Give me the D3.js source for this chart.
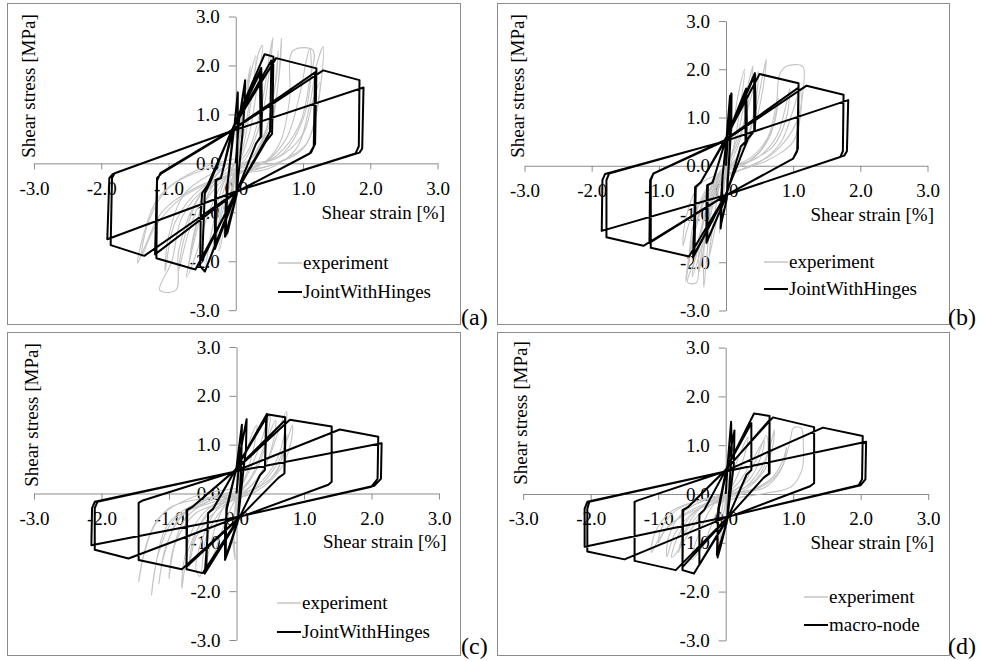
<!DOCTYPE html>
<html><head><meta charset="utf-8">
<script src="https://cdn.jsdelivr.net/npm/d3@7"></script>
<style>body{margin:0;background:#fff}svg{display:block}
svg text{font-family:"Liberation Serif","Times New Roman",Tinos,"Nimbus Roman","DejaVu Serif",serif !important}</style>
</head><body><svg id="c" width="982" height="661"></svg>
<script>
const xTicks=[-3,-2,-1,0,1,2,3];
const yTicks=[-3,-2,-1,0,1,2,3];
const panelLabels=["(a)","(b)","(c)","(d)"];
const modelNames=["JointWithHinges","JointWithHinges","JointWithHinges","macro-node"];
const expName="experiment";
const xTitle="Shear strain [%]";
const yTitle="Shear stress [MPa]";

const aModel=[[0,0],[0.05,0.9],[0.14,1.70],[0.13,1.2],[0.10,0.6],[0.01,-0.66],[-0.12,-1.4],[-0.16,-1.5],[-0.15,-0.9],[-0.12,-0.4],[-0.02,0.76],[0.03,1.45],[0.03,0.8],[0.01,-0.66],[-0.15,-1.45],[-0.12,-0.4],
[-0.03,0.74],[0.38,1.95],[0.39,1.1],[0.38,0.55],[0.3,0.4],[0.0,-0.63],[-0.31,-1.75],[-0.31,-0.9],[-0.3,-0.34],[-0.22,-0.3],
[-0.03,0.74],[0.36,1.85],[0.37,0.55],[0.3,0.4],[0.0,-0.63],[-0.3,-1.7],[-0.29,-0.34],[-0.22,-0.3],
[-0.05,0.7],[0.43,2.23],[0.56,2.18],[0.55,1.3],[0.54,0.6],[0.45,0.45],[0.0,-0.6],[-0.46,-2.21],[-0.53,-2.1],[-0.52,-1.0],[-0.5,-0.61],[-0.42,-0.45],
[-0.05,0.7],[0.53,2.1],[0.51,0.65],[0.44,0.47],[0.0,-0.6],[-0.5,-1.98],[-0.46,-0.61],[-0.4,-0.45],
[-0.06,0.68],[0.6,2.15],[1.2,1.94],[1.18,0.4],[1.12,0.22],[0.02,-0.58],[-0.6,-2.17],[-1.18,-1.94],[-1.17,-0.35],[-1.12,-0.2],
[-0.06,0.68],[1.18,1.86],[1.16,0.35],[1.1,0.2],[0.02,-0.58],[-1.2,-1.86],[-1.17,-0.3],[-1.1,-0.2],
[-0.08,0.65],[1.3,1.9],[1.84,1.70],[1.83,0.35],[1.78,0.2],[0.03,-0.56],[-1.36,-1.89],[-1.86,-1.67],[-1.84,-0.3],[-1.8,-0.2],
[-0.08,0.65],[1.9,1.55],[1.88,0.3],[1.84,0.22],[0.03,-0.56],[-1.91,-1.55],[-1.88,-0.3],[-1.83,-0.22],[-0.08,0.65]];

const bModel=[[0,0],[0.04,0.9],[0.08,1.5],[0.08,0.9],[0.06,0.4],[0.01,-0.7],[-0.06,-1.1],[-0.08,-1.3],[-0.07,-0.6],[-0.05,-0.2],[0.01,0.6],[0.06,1.45],[0.06,0.5],[0.01,-0.7],[-0.08,-1.25],[-0.05,-0.2],
[0.01,0.6],[0.3,1.6],[0.31,0.95],[0.3,0.5],[0.22,0.4],[-0.01,-0.68],[-0.29,-1.6],[-0.29,-0.8],[-0.28,-0.4],[-0.2,-0.35],
[0.01,0.6],[0.29,1.55],[0.29,0.5],[0.22,0.4],[-0.01,-0.68],[-0.28,-1.55],[-0.27,-0.4],[-0.2,-0.35],
[0.0,0.55],[0.43,1.92],[0.44,1.2],[0.43,0.74],[0.33,0.57],[-0.02,-0.65],[-0.49,-1.9],[-0.47,-1.0],[-0.46,-0.44],[-0.38,-0.35],
[0.0,0.55],[0.42,1.85],[0.42,0.72],[0.33,0.57],[-0.02,-0.65],[-0.47,-1.83],[-0.45,-0.44],[-0.38,-0.35],
[-0.02,0.53],[0.5,1.9],[1.08,1.71],[1.07,0.35],[1.0,0.15],[-0.01,-0.62],[-0.55,-1.88],[-1.12,-1.7],[-1.12,-0.3],[-1.08,-0.16],
[-0.02,0.53],[1.08,1.62],[1.06,0.3],[1.0,0.15],[-0.01,-0.62],[-1.14,-1.6],[-1.13,-0.3],[-1.08,-0.16],
[-0.04,0.5],[1.2,1.66],[1.75,1.47],[1.74,0.3],[1.7,0.18],[0.01,-0.6],[-1.23,-1.66],[-1.78,-1.48],[-1.78,-0.3],[-1.74,-0.16],
[-0.04,0.5],[1.82,1.36],[1.8,0.3],[1.76,0.21],[0.01,-0.6],[-1.85,-1.35],[-1.84,-0.3],[-1.8,-0.17],[-0.04,0.5]];

const cModel=[[0,0],[0.05,0.8],[0.15,1.52],[0.14,0.9],[0.1,0.45],[0.02,-0.56],[-0.1,-1.1],[-0.17,-1.36],[-0.17,-0.7],[-0.14,-0.3],[0.0,0.53],[0.08,1.41],[0.07,0.5],[0.02,-0.56],[-0.16,-1.3],[-0.15,-0.3],
[0.0,0.52],[0.45,1.63],[0.43,0.9],[0.42,0.48],[0.35,0.38],[0.03,-0.53],[-0.47,-1.64],[-0.43,-0.9],[-0.42,-0.4],[-0.35,-0.32],
[0.0,0.52],[0.44,1.58],[0.42,0.48],[0.35,0.38],[0.03,-0.53],[-0.45,-1.58],[-0.42,-0.4],[-0.35,-0.32],
[-0.02,0.48],[0.47,1.62],[0.72,1.56],[0.72,0.9],[0.71,0.41],[0.62,0.32],[0.03,-0.51],[-0.5,-1.63],[-0.74,-1.55],[-0.74,-0.9],[-0.74,-0.34],[-0.66,-0.28],
[-0.02,0.48],[0.72,1.5],[0.71,0.41],[0.62,0.32],[0.03,-0.51],[-0.74,-1.5],[-0.73,-0.34],[-0.66,-0.28],
[-0.03,0.46],[0.79,1.51],[1.41,1.37],[1.41,0.8],[1.41,0.24],[1.36,0.18],[0.04,-0.49],[-0.81,-1.55],[-1.45,-1.36],[-1.45,-0.8],[-1.45,-0.19],[-1.4,-0.15],
[-0.05,0.44],[1.53,1.31],[2.1,1.16],[2.09,0.3],[2.0,0.14],[0.05,-0.47],[-1.6,-1.33],[-2.1,-1.15],[-2.1,-0.3],[-2.06,-0.17],
[-0.05,0.44],[2.15,1.03],[2.14,0.3],[2.04,0.16],[0.05,-0.47],[-2.15,-1.06],[-2.14,-0.3],[-2.1,-0.17],[-0.05,0.44]];

const dModel=[[0,0],[0.04,0.8],[0.08,1.48],[0.09,0.9],[0.07,0.45],[0.02,-0.55],[-0.08,-1.1],[-0.12,-1.3],[-0.12,-0.7],[-0.1,-0.3],[0.02,0.54],[0.13,1.3],[0.12,0.6],[0.02,-0.55],[-0.13,-1.25],[-0.11,-0.3],
[0.01,0.52],[0.38,1.45],[0.38,0.9],[0.38,0.49],[0.31,0.4],[0.02,-0.53],[-0.39,-1.45],[-0.39,-0.9],[-0.39,-0.42],[-0.32,-0.33],
[0.0,0.49],[0.42,1.65],[0.65,1.6],[0.65,0.9],[0.65,0.42],[0.56,0.33],[0.02,-0.5],[-0.47,-1.63],[-0.64,-1.56],[-0.64,-0.9],[-0.64,-0.33],[-0.56,-0.27],
[0.0,0.49],[0.65,1.52],[0.64,0.42],[0.56,0.33],[0.02,-0.5],[-0.64,-1.5],[-0.63,-0.33],[-0.56,-0.27],
[-0.02,0.47],[0.7,1.57],[1.31,1.37],[1.31,0.8],[1.31,0.22],[1.25,0.16],[0.03,-0.48],[-0.74,-1.56],[-1.35,-1.37],[-1.35,-0.8],[-1.35,-0.16],[-1.3,-0.13],
[-0.04,0.45],[1.44,1.36],[2.03,1.19],[2.02,0.3],[1.97,0.18],[0.04,-0.46],[-1.5,-1.34],[-2.05,-1.18],[-2.05,-0.3],[-2.02,-0.16],
[-0.04,0.45],[2.08,1.07],[2.07,0.3],[2.0,0.18],[0.04,-0.46],[-2.09,-1.08],[-2.09,-0.3],[-2.05,-0.16],[-0.04,0.45]];

const aExp=[
[[0,0],[0.05,0.7],[0.1,1.3],[0.14,1.6],[0.1,1.0],[0.03,0.2],[-0.03,-0.5],[-0.08,-1.1],[-0.12,-1.5],[-0.08,-0.9],[-0.02,-0.2],[0,0]],
[[0,0.1],[0.08,0.9],[0.18,1.7],[0.22,2.0],[0.16,1.3],[0.06,0.3],[-0.05,-0.4],[-0.15,-1.2],[-0.25,-1.8],[-0.17,-1.0],[-0.05,-0.1],[0,0.1]],
[[0,0.05],[0.1,0.8],[0.22,1.8],[0.3,2.2],[0.25,1.5],[0.12,0.4],[-0.05,-0.3],[-0.2,-1.0],[-0.35,-1.9],[-0.28,-1.2],[-0.1,-0.2],[0,0.05]],
[[0,0],[0.12,0.6],[0.25,1.6],[0.35,2.3],[0.4,2.41],[0.33,1.7],[0.2,0.6],[0.02,-0.1],[-0.15,-0.6],[-0.3,-1.5],[-0.45,-2.2],[-0.36,-1.4],[-0.18,-0.4],[0,0]],
[[0,-0.05],[0.2,0.3],[0.4,1.3],[0.5,2.2],[0.55,2.57],[0.5,1.9],[0.38,0.9],[0.15,0.1],[-0.15,-0.3],[-0.4,-1.0],[-0.6,-1.9],[-0.73,-2.33],[-0.62,-1.6],[-0.4,-0.6],[-0.1,-0.05]],
[[0,-0.1],[0.3,0.2],[0.5,0.9],[0.6,1.8],[0.63,2.3],[0.6,1.7],[0.45,0.7],[0.2,0.05],[-0.2,-0.35],[-0.5,-0.9],[-0.65,-1.7],[-0.7,-2.1],[-0.6,-1.3],[-0.35,-0.4],[0,-0.1]],
[[0,-0.1],[0.25,0.05],[0.5,0.6],[0.62,1.5],[0.68,2.55],[0.66,2.0],[0.55,1.0],[0.3,0.2],[-0.1,-0.2],[-0.45,-0.6],[-0.7,-1.4],[-0.85,-2.2],[-0.78,-1.6],[-0.55,-0.7],[-0.15,-0.05]],
[[0,-0.15],[0.35,-0.05],[0.65,0.4],[0.8,1.3],[0.85,2.3],[1.15,2.31],[1.1,1.7],[0.95,0.8],[0.6,0.15],[0.1,-0.15],[-0.4,-0.45],[-0.8,-1.1],[-0.95,-2.0],[-1.13,-2.59],[-0.89,-2.59],[-0.85,-1.8],[-0.6,-0.8],[-0.2,-0.1]],
[[0,-0.1],[0.4,0.0],[0.75,0.5],[0.95,1.4],[1.05,2.1],[1.1,2.35],[1.12,1.8],[1.0,0.9],[0.7,0.2],[0.2,-0.1],[-0.5,-0.5],[-0.9,-1.2],[-1.05,-2.2],[-1.0,-1.5],[-0.75,-0.6],[-0.2,-0.1]],
[[0,-0.2],[0.5,-0.1],[0.9,0.3],[1.1,1.2],[1.2,2.0],[1.3,2.38],[1.28,1.8],[1.2,1.1],[1.05,0.4],[0.6,0.0],[0.0,-0.2],[-0.6,-0.5],[-1.1,-1.0],[-1.35,-1.7],[-1.46,-2.04],[-1.38,-1.5],[-1.15,-0.7],[-0.6,-0.15],[0,0.1]],
[[0.05,0],[0.6,0.1],[1.0,0.6],[1.15,1.3],[1.25,1.65],[1.2,1.0],[1.0,0.3],[0.5,-0.05],[-0.2,-0.3],[-0.8,-0.7],[-1.2,-1.3],[-1.4,-1.9],[-1.3,-1.2],[-1.0,-0.5],[-0.4,-0.1],[0.05,0]]];

const bExp=[
[[0,0],[0.04,0.7],[0.08,1.3],[0.1,1.5],[0.07,0.9],[0.02,0.2],[-0.03,-0.5],[-0.07,-1.1],[-0.1,-1.4],[-0.06,-0.8],[-0.01,-0.1],[0,0]],
[[0,0.05],[0.1,0.8],[0.2,1.6],[0.28,2.0],[0.22,1.3],[0.1,0.3],[-0.05,-0.4],[-0.15,-1.2],[-0.25,-1.9],[-0.18,-1.1],[-0.05,-0.1],[0,0.05]],
[[0,0],[0.15,0.5],[0.3,1.5],[0.4,2.07],[0.34,1.4],[0.2,0.5],[0.02,-0.1],[-0.15,-0.6],[-0.3,-1.5],[-0.4,-2.2],[-0.33,-1.5],[-0.15,-0.4],[0,0]],
[[0,0],[0.15,0.4],[0.35,1.3],[0.48,1.95],[0.45,1.4],[0.3,0.5],[0.05,-0.05],[-0.2,-0.7],[-0.35,-1.6],[-0.5,-2.3],[-0.42,-1.6],[-0.2,-0.5],[0,0]],
[[0,-0.05],[0.25,0.3],[0.45,1.2],[0.55,1.9],[0.6,2.21],[0.55,1.6],[0.4,0.7],[0.15,0.1],[-0.1,-0.3],[-0.3,-1.0],[-0.45,-1.9],[-0.57,-2.42],[-0.44,-2.42],[-0.4,-1.7],[-0.25,-0.6],[-0.05,-0.05]],
[[0,-0.1],[0.3,0.05],[0.6,0.5],[0.75,1.3],[0.8,1.9],[0.9,2.06],[1.14,2.06],[1.15,1.6],[1.05,0.9],[0.7,0.25],[0.2,-0.1],[-0.15,-0.4],[-0.3,-1.2],[-0.33,-2.52],[-0.28,-1.8],[-0.18,-0.6],[0,-0.1]],
[[0,-0.15],[0.4,0.0],[0.8,0.45],[1.0,1.15],[1.1,1.6],[1.12,1.2],[1.0,0.5],[0.6,0.1],[0.0,-0.2],[-0.3,-0.6],[-0.55,-1.2],[-0.64,-1.66],[-0.6,-1.1],[-0.4,-0.4],[-0.05,-0.15]],
[[0.05,0],[0.45,0.15],[0.75,0.6],[0.9,1.3],[0.95,1.6],[0.9,1.0],[0.7,0.4],[0.3,0.05],[-0.1,-0.2],[-0.35,-0.8],[-0.5,-1.6],[-0.55,-2.0],[-0.5,-1.3],[-0.3,-0.5],[0.05,0]],
[[0,0],[0.35,0.1],[0.65,0.6],[0.78,1.4],[0.7,0.8],[0.4,0.2],[0,-0.1],[-0.25,-0.5],[-0.45,-1.3],[-0.6,-2.4],[-0.5,-1.5],[-0.25,-0.4],[0,0]]];

const cExp=[
[[0,0],[0.03,0.6],[0.08,1.1],[0.1,1.3],[0.07,0.8],[0.02,0.1],[-0.03,-0.5],[-0.05,-1.0],[-0.02,-1.36],[-0.04,-0.7],[-0.01,-0.1],[0,0]],
[[0,0.05],[0.1,0.6],[0.2,1.1],[0.3,1.4],[0.25,0.9],[0.12,0.3],[-0.05,-0.2],[-0.2,-0.7],[-0.35,-1.3],[-0.45,-1.6],[-0.38,-1.0],[-0.2,-0.3],[0,0.05]],
[[0,0],[0.15,0.35],[0.35,1.0],[0.45,1.45],[0.5,1.6],[0.45,1.1],[0.3,0.5],[0.05,0.0],[-0.2,-0.3],[-0.45,-0.9],[-0.54,-1.7],[-0.6,-1.55],[-0.5,-0.9],[-0.25,-0.25],[0,0]],
[[0,0],[0.2,0.3],[0.42,1.0],[0.58,1.5],[0.55,1.1],[0.4,0.5],[0.1,0.0],[-0.3,-0.35],[-0.6,-0.9],[-0.7,-1.5],[-0.65,-1.0],[-0.4,-0.35],[0,0]],
[[0,-0.05],[0.25,0.2],[0.5,0.8],[0.65,1.4],[0.74,1.68],[0.72,1.3],[0.6,0.7],[0.3,0.15],[-0.05,-0.1],[-0.4,-0.4],[-0.7,-1.1],[-0.81,-1.94],[-0.78,-1.4],[-0.6,-0.6],[-0.25,-0.15],[0,-0.05]],
[[0,-0.1],[0.3,0.1],[0.6,0.6],[0.75,1.1],[0.83,1.4],[0.8,1.0],[0.65,0.5],[0.3,0.05],[-0.1,-0.15],[-0.6,-0.4],[-0.9,-1.0],[-1.0,-1.74],[-0.95,-1.2],[-0.75,-0.5],[-0.3,-0.1],[0,-0.1]],
[[0,-0.05],[0.35,0.15],[0.6,0.45],[0.7,0.9],[0.75,1.2],[0.7,0.8],[0.5,0.3],[0.1,0.0],[-0.4,-0.2],[-0.9,-0.5],[-1.15,-1.2],[-1.26,-2.08],[-1.2,-1.5],[-1.0,-0.6],[-0.4,-0.1],[0,-0.05]],
[[0,0],[-0.5,-0.1],[-1.0,-0.3],[-1.3,-0.9],[-1.45,-1.81],[-1.38,-1.3],[-1.15,-0.5],[-0.6,-0.05],[0,0.1]],
[[0,0],[-0.4,-0.15],[-0.8,-0.45],[-1.05,-1.1],[-1.15,-1.85],[-1.08,-1.3],[-0.85,-0.5],[-0.4,-0.1],[0,0.05]]];

const dExp=[
[[0,0],[0.03,0.5],[0.07,0.9],[0.1,1.1],[0.07,0.6],[0.02,0.05],[-0.03,-0.4],[-0.08,-0.9],[-0.12,-1.1],[-0.08,-0.6],[-0.02,-0.05],[0,0]],
[[0,0.05],[0.12,0.5],[0.25,0.95],[0.33,1.17],[0.28,0.8],[0.15,0.3],[-0.05,-0.15],[-0.2,-0.6],[-0.35,-1.1],[-0.51,-1.35],[-0.42,-0.9],[-0.2,-0.25],[0,0.05]],
[[0,0],[0.2,0.25],[0.4,0.7],[0.52,1.0],[0.57,1.09],[0.52,0.75],[0.35,0.3],[0.05,0.0],[-0.25,-0.25],[-0.5,-0.7],[-0.7,-1.15],[-0.8,-1.3],[-0.72,-0.9],[-0.45,-0.35],[0,0]],
[[0,0],[0.25,0.2],[0.45,0.7],[0.6,1.2],[0.62,0.8],[0.45,0.3],[0.1,0.0],[-0.3,-0.3],[-0.6,-0.8],[-0.7,-1.2],[-0.62,-0.8],[-0.35,-0.25],[0,0]],
[[0,-0.05],[0.3,0.15],[0.55,0.6],[0.68,1.1],[0.72,1.31],[0.7,1.0],[0.58,0.5],[0.3,0.1],[-0.1,-0.1],[-0.45,-0.35],[-0.75,-0.8],[-0.87,-1.28],[-0.85,-0.9],[-0.65,-0.4],[-0.25,-0.1],[0,-0.05]],
[[0,-0.05],[0.35,0.05],[0.6,0.15],[0.8,0.45],[0.92,0.9],[0.97,1.2],[1.0,1.35],[1.12,1.35],[1.15,1.0],[1.13,0.5],[0.97,0.15],[0.57,0.01],[0.1,-0.1],[-0.4,-0.3],[-0.8,-0.6],[-1.0,-0.95],[-1.1,-1.2],[-1.05,-0.8],[-0.8,-0.35],[-0.3,-0.1],[0,-0.05]],
[[0,0],[0.4,0.1],[0.7,0.35],[0.85,0.7],[0.9,0.95],[0.85,0.6],[0.65,0.25],[0.3,0.02],[-0.2,-0.15],[-0.6,-0.4],[-0.9,-0.75],[-1.0,-1.0],[-0.95,-0.7],[-0.7,-0.3],[0,0]]];

const models=[aModel,bModel,cModel,dModel];
const exps=[aExp,bExp,cExp,dExp];

const layout=[
 {frame:[7,3,453,321], xr:[34,437.5], yr:[16.5,310.2], lab:[461,325], xt:[445,219], yt:[35,86], leg:[278,263,292]},
 {frame:[497,3,452,321], xr:[524.5,927.5], yr:[21,310.5], lab:[948,325], xt:[934,221], yt:[524,86], leg:[764,262,289]},
 {frame:[7,332,453,323], xr:[34,439], yr:[347,640], lab:[461,654], xt:[446.5,547.5], yt:[37.5,415], leg:[277,603,632]},
 {frame:[497,332,452,323], xr:[523.2,928.2], yr:[347.6,640.4], lab:[948,654], xt:[934,549], yt:[527,413], leg:[804,597,625]}
];

const svg=d3.select("#c");
const axisCol="#8c8c8c";
const FONT='"Liberation Serif","Times New Roman",Tinos,"Nimbus Roman","DejaVu Serif",serif';
const fmt=d=>d.toFixed(1);

layout.forEach((L,i)=>{
  const g=svg.append("g");
  g.append("rect").attr("x",L.frame[0]+0.5).attr("y",L.frame[1]+0.5).attr("width",L.frame[2]).attr("height",L.frame[3])
   .attr("fill","#fff").attr("stroke",axisCol).attr("stroke-width",1);
  const x=d3.scaleLinear().domain([-3,3]).range(L.xr);
  const y=d3.scaleLinear().domain([-3,3]).range([L.yr[1],L.yr[0]]);
  const gx=g.append("g").attr("transform",`translate(0,${y(0)})`)
    .call(d3.axisBottom(x).tickValues(xTicks).tickFormat(fmt).tickSize(6).tickSizeOuter(0).tickPadding(12));
  const gy=g.append("g").attr("transform",`translate(${x(0)},0)`)
    .call(d3.axisLeft(y).tickValues(yTicks).tickFormat(fmt).tickSize(7).tickSizeOuter(0).tickPadding(9));
  [gx,gy].forEach(a=>{
    a.attr("font-family",FONT).attr("font-size",19);
    a.select(".domain").attr("stroke",axisCol);
    a.selectAll(".tick line").attr("stroke",axisCol);
    a.selectAll("text").style("font-family",FONT).style("font-size","19px").attr("fill","#000");
  });
  const T=(sel)=>sel.style("font-family",FONT).style("font-size","19px").attr("fill","#000");
  T(g.append("text").attr("x",L.xt[0]).attr("y",L.xt[1]).attr("text-anchor","end").text(xTitle));
  T(g.append("text").attr("transform",`translate(${L.yt[0]},${L.yt[1]}) rotate(-90)`).attr("text-anchor","middle").text(yTitle));
  const lineC=d3.line().x(d=>x(d[0])).y(d=>y(d[1])).curve(d3.curveCatmullRom.alpha(0.5));
  g.append("g").selectAll("path").data(exps[i]).join("path").attr("d",lineC)
    .attr("fill","none").attr("stroke","#c4c4c4").attr("stroke-width",1.1);
  const lineL=d3.line().x(d=>x(d[0])).y(d=>y(d[1]));
  g.append("path").datum(models[i]).attr("d",lineL).attr("fill","none").attr("stroke","#000")
    .attr("stroke-width",2).attr("stroke-linejoin","round");
  g.append("line").attr("x1",L.leg[0]).attr("x2",L.leg[0]+24).attr("y1",L.leg[1]).attr("y2",L.leg[1]).attr("stroke","#c4c4c4").attr("stroke-width",1.5);
  T(g.append("text").attr("x",L.leg[0]+25).attr("y",L.leg[1]+5.5).text(expName));
  g.append("line").attr("x1",L.leg[0]).attr("x2",L.leg[0]+24).attr("y1",L.leg[2]).attr("y2",L.leg[2]).attr("stroke","#000").attr("stroke-width",2);
  T(g.append("text").attr("x",L.leg[0]+25).attr("y",L.leg[2]+5.5).text(modelNames[i]));
  svg.append("text").attr("x",L.lab[0]).attr("y",L.lab[1]).style("font-family",FONT).style("font-size","24px").text(panelLabels[i]);
});
</script></body></html>
